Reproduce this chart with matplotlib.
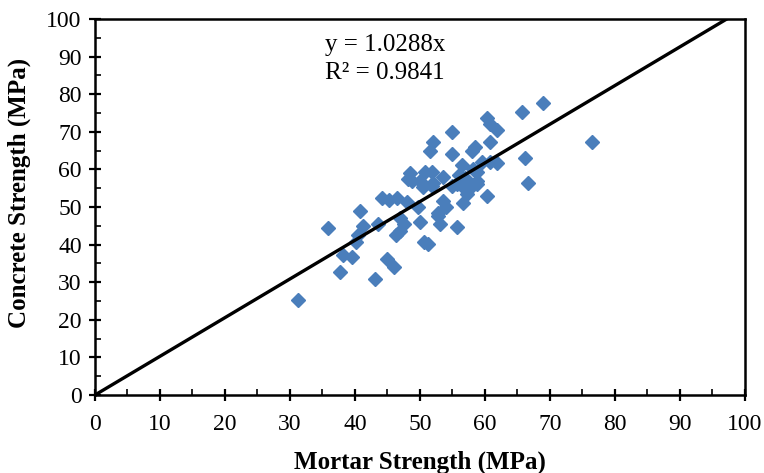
import matplotlib
matplotlib.use("Agg")
import matplotlib.pyplot as plt
import numpy as np
from matplotlib.ticker import MultipleLocator

# mortar vs concrete strength (MPa)
mortar = [31.2, 35.8, 37.7, 38.2, 39.6, 40.2, 40.4, 41.2, 40.8, 43.1,
          43.6, 44.9, 46.0, 44.2, 45.2, 46.5, 46.3, 46.9, 46.9, 47.5,
          48.0, 48.2, 48.5, 48.8, 49.7, 50.0, 50.0, 50.6, 51.2, 50.5,
          50.8, 51.8, 51.8, 52.0, 51.5, 52.0, 52.8, 53.1, 53.5, 54.0,
          52.8, 55.0, 55.0, 55.7, 55.7, 56.5, 56.6, 56.6, 57.0, 57.7,
          58.0, 58.2, 58.5, 58.8, 58.8, 58.8, 59.5, 60.3, 60.3, 60.8,
          60.8, 60.8, 61.8, 61.8, 65.7, 66.2, 66.6, 68.9, 76.4, 56.0,
          57.2, 55.0, 53.5]
concrete = [25.2, 44.5, 32.8, 37.3, 36.8, 40.6, 42.6, 45.0, 49.0, 30.8,
            45.6, 36.3, 34.1, 52.4, 51.8, 52.5, 42.6, 43.5, 47.2, 45.6,
            51.2, 57.4, 59.0, 57.0, 50.0, 46.0, 57.0, 40.6, 40.2, 55.2,
            59.2, 59.2, 55.7, 56.5, 64.8, 67.2, 47.5, 45.6, 51.7, 50.0,
            48.5, 70.0, 64.0, 44.8, 56.2, 61.2, 55.2, 51.0, 57.8, 55.0,
            65.0, 60.2, 66.0, 57.0, 56.0, 59.2, 62.0, 53.0, 73.7, 72.0,
            67.4, 62.0, 70.6, 61.8, 75.3, 63.0, 56.5, 77.7, 67.2, 58.5,
            53.5, 55.5, 58.0]
slope = 1.0288
r2 = 0.9841

plt.rcParams['font.family'] = ['Liberation Serif', 'DejaVu Serif']

fig = plt.figure(figsize=(7.64, 4.73), dpi=100)
ax = fig.add_axes([0.1243, 0.1649, 0.8507, 0.7949])

ax.plot(mortar, concrete, linestyle='none', marker='D', ms=6.8,
        color='#4a7ebb', zorder=2)

xs = np.array([0, 100])
ax.plot(xs, slope * xs, color='black', lw=2.4, zorder=3, clip_on=True)

ax.set_xlim(0, 100)
ax.set_ylim(0, 100)
ax.xaxis.set_major_locator(MultipleLocator(10))
ax.yaxis.set_major_locator(MultipleLocator(10))
ax.xaxis.set_minor_locator(MultipleLocator(5))
ax.yaxis.set_minor_locator(MultipleLocator(5))
ax.tick_params(which='major', direction='inout', length=9, width=1.6,
               labelsize=17, pad=5)
ax.tick_params(which='minor', direction='in', length=4.5, width=1.2)
ax.tick_params(axis='x', pad=9)
for sp in ax.spines.values():
    sp.set_linewidth(1.8)

ax.set_xlabel('Mortar Strength (MPa)', fontsize=18, fontweight='bold')
ax.set_ylabel('Concrete Strength (MPa)', fontsize=18, fontweight='bold')
ax.xaxis.set_label_coords(0.5, -0.148)
ax.yaxis.set_label_coords(-0.0985, 0.537)

ax.text(0.354, 0.93, 'y = %.4fx' % slope, transform=ax.transAxes,
        fontsize=18, va='center', ha='left')
ax.text(0.354, 0.857, 'R² = %.4f' % r2, transform=ax.transAxes,
        fontsize=18, va='center', ha='left')

fig.savefig('out.png', dpi=100)
